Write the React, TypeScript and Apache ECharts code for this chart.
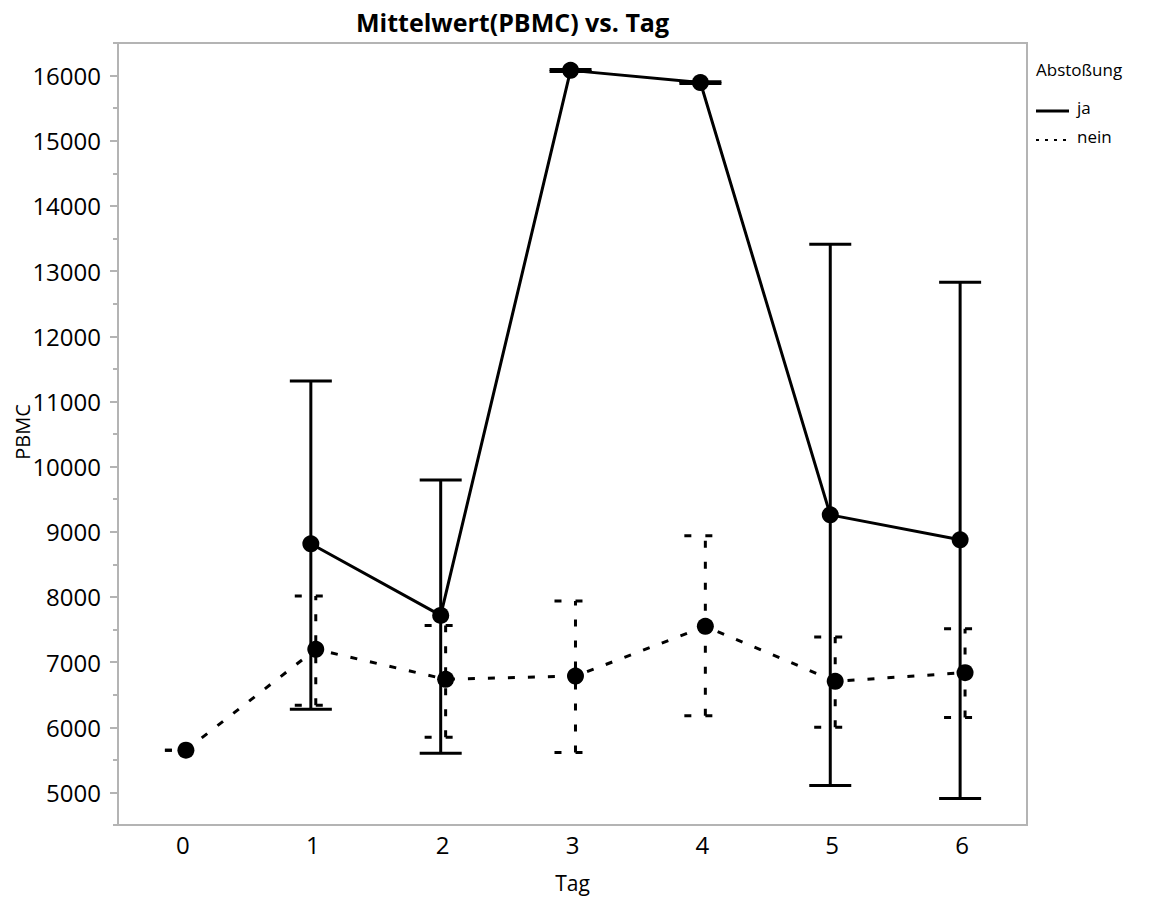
import React, { useEffect, useRef } from "react";
import * as echarts from "echarts";

// ---- data ----
const days = [0, 1, 2, 3, 4, 5, 6];
const jaDays = [1, 2, 3, 4, 5, 6];
const jaMean = [8815, 7716, 16080, 15893, 9259, 8876];
const jaLow = [6276, 5602, 16062, 15878, 5105, 4908];
const jaHigh = [11312, 9795, 16095, 15905, 13411, 12829];

const neinDays = [0, 1, 2, 3, 4, 5, 6];
const neinMean = [5648, 7196, 6736, 6785, 7548, 6705, 6838];
const neinLow = [5648, 6338, 5847, 5613, 6175, 6000, 6149];
const neinHigh = [5648, 8014, 7563, 7937, 8937, 7386, 7513];

const yMajorTicks = [5000, 6000, 7000, 8000, 9000, 10000, 11000, 12000, 13000, 14000, 15000, 16000];
const yMinorTicks = [4500, 5500, 6500, 7500, 8500, 9500, 10500, 11500, 12500, 13500, 14500, 15500, 16500];

const titleText = "Mittelwert(PBMC) vs. Tag";
const yAxisName = "PBMC";
const legendTitle = "Abstoßung";
const groupNames = ["ja", "nein"];

// horizontal dodge (in day units)
const JA_OFFSET = -0.015;
const NEIN_OFFSET = 0.023;

const FONT = "Open Sans";

function errorBarSeries(name: string, xs: number[], lows: number[], highs: number[], offset: number, dashed: boolean) {
  const data = xs.map((d, i) => [d + offset, lows[i], highs[i]]);
  return {
    type: "custom",
    name,
    xAxisIndex: 0,
    yAxisIndex: 0,
    z: 2,
    silent: true,
    data,
    encode: { x: 0, y: [1, 2] },
    renderItem: (params: any, api: any) => {
      const x = api.value(0);
      const lo = api.coord([x, api.value(1)]);
      const hi = api.coord([x, api.value(2)]);
      const half = 21;
      const style: any = { stroke: "#000", lineWidth: 3 };
      if (dashed) style.lineDash = [7, 14];
      const children: any[] = [];
      if (Math.abs(hi[1] - lo[1]) > 0.5) {
        children.push({ type: "line", shape: { x1: lo[0], y1: lo[1], x2: hi[0], y2: hi[1] }, style });
      }
      children.push({ type: "line", shape: { x1: hi[0] - half, y1: hi[1], x2: hi[0] + half, y2: hi[1] }, style });
      children.push({ type: "line", shape: { x1: lo[0] - half, y1: lo[1], x2: lo[0] + half, y2: lo[1] }, style });
      return { type: "group", children };
    },
  };
}

export default function App() {
  const ref = useRef<HTMLDivElement>(null);
  useEffect(() => {
    document.body.style.margin = "0";
    const chart = echarts.init(ref.current!, null, { renderer: "svg" });
    const axisGray = "#b4b4b4";
    const option: any = {
      animation: false,
      backgroundColor: "#fff",
      textStyle: { fontFamily: FONT },
      title: {
        text: titleText,
        left: 351,
        top: 4,
        textStyle: { fontFamily: FONT, fontWeight: "bold", fontSize: 25, color: "#000" },
      },
      grid: {
        left: 118,
        right: 125,
        top: 43,
        bottom: 72,
        containLabel: false,
        outerBoundsMode: "none",
        show: true,
        borderColor: axisGray,
        borderWidth: 2,
        backgroundColor: "transparent",
      },
      xAxis: {
        type: "value",
        min: -0.5,
        max: 6.5,
        name: "Tag",
        nameLocation: "middle",
        nameGap: 47,
        nameTextStyle: { fontFamily: FONT, fontSize: 21, color: "#000" },
        axisLine: { show: true, onZero: false, lineStyle: { color: axisGray, width: 2 } },
        axisTick: { show: false },
        splitLine: { show: false },
        axisLabel: {
          customValues: days,
          formatter: (v: number) => String(v),
          fontFamily: FONT,
          fontSize: 24,
          color: "#000",
          margin: 7,
        },
      },
      yAxis: [
        {
          type: "value",
          min: 4500,
          max: 16500,
          interval: 500,
          axisLine: { show: true, onZero: false, lineStyle: { color: axisGray, width: 2 } },
          axisTick: { show: true, customValues: yMajorTicks, length: 8, lineStyle: { color: axisGray, width: 2 } },
          splitLine: { show: false },
          axisLabel: {
            customValues: yMajorTicks,
            formatter: (v: number) => String(v),
            fontFamily: FONT,
            fontSize: 24,
            color: "#000",
            margin: 17,
          },
        },
        {
          type: "value",
          position: "left",
          min: 4500,
          max: 16500,
          interval: 500,
          axisLine: { show: false, onZero: false },
          axisTick: { show: true, customValues: yMinorTicks, length: 5, lineStyle: { color: axisGray, width: 2 } },
          axisLabel: { show: false },
          splitLine: { show: false },
        },
      ],
      series: [
        errorBarSeries("ja-err", jaDays, jaLow, jaHigh, JA_OFFSET, false),
        errorBarSeries("nein-err", neinDays, neinLow, neinHigh, NEIN_OFFSET, true),
        {
          type: "line",
          name: groupNames[0],
          data: jaDays.map((d, i) => [d + JA_OFFSET, jaMean[i]]),
          symbol: "circle",
          symbolSize: 17,
          itemStyle: { color: "#000" },
          lineStyle: { color: "#000", width: 3 },
          z: 3,
        },
        {
          type: "line",
          name: groupNames[1],
          data: neinDays.map((d, i) => [d + NEIN_OFFSET, neinMean[i]]),
          symbol: "circle",
          symbolSize: 17,
          itemStyle: { color: "#000" },
          lineStyle: { color: "#000", width: 3, type: [7, 13] },
          z: 3,
        },
      ],
      graphic: [
        {
          type: "text",
          x: 22,
          y: 432,
          rotation: Math.PI / 2,
          style: {
            text: yAxisName,
            font: `20px ${FONT}`,
            fill: "#000",
            align: "center",
            verticalAlign: "middle",
          },
        },
        {
          type: "text",
          left: 1036,
          top: 61,
          style: { text: legendTitle, font: `17px ${FONT}`, fill: "#000" },
        },
        {
          type: "line",
          shape: { x1: 1036, y1: 111, x2: 1069, y2: 111 },
          style: { stroke: "#000", lineWidth: 3 },
        },
        {
          type: "text",
          left: 1077,
          top: 99,
          style: { text: groupNames[0], font: `17px ${FONT}`, fill: "#000" },
        },
        {
          type: "line",
          shape: { x1: 1036, y1: 140, x2: 1070, y2: 140 },
          style: { stroke: "#000", lineWidth: 2, lineDash: [3, 6] },
        },
        {
          type: "text",
          left: 1077,
          top: 128,
          style: { text: groupNames[1], font: `17px ${FONT}`, fill: "#000" },
        },
      ],
    };
    chart.setOption(option);
    return () => chart.dispose();
  }, []);
  return <div ref={ref} style={{ width: 1152, height: 897 }} />;
}
